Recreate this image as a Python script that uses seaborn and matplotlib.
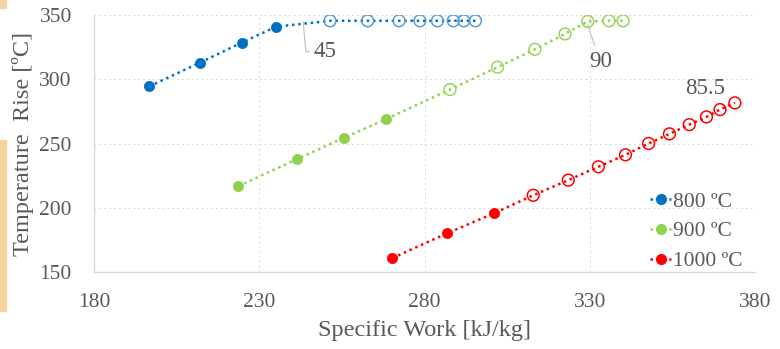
import pandas as pd
import seaborn as sns
import matplotlib.pyplot as plt
from matplotlib.lines import Line2D
from matplotlib.patches import Rectangle

# Specific work [kJ/kg] and temperature rise [ºC] per turbine inlet temperature
w800 = [196.7, 212.1, 224.7, 235.1, 251.4, 262.8, 272.3, 278.6, 283.9, 288.7, 291.9, 295.4]
t800 = [294.4, 313.0, 328.5, 340.9, 345.5, 345.5, 345.5, 345.5, 345.5, 345.5, 345.5, 345.5]
n_fill800 = 4

w900 = [223.7, 241.3, 255.6, 268.2, 287.7, 302.1, 313.4, 322.5, 329.4, 335.8, 340.1]
t900 = [216.9, 237.7, 254.4, 268.8, 292.0, 309.4, 323.3, 335.3, 345.0, 345.5, 345.5]
n_fill900 = 4

w1000 = [270.3, 286.9, 301.0, 312.9, 323.5, 332.6, 340.8, 347.8, 354.1, 360.1, 365.3, 369.4, 373.9]
t1000 = [160.9, 180.2, 195.7, 209.7, 221.5, 231.9, 241.2, 250.0, 257.5, 264.7, 270.7, 276.4, 281.6]
n_fill1000 = 3

labels = ["800 ºC", "900 ºC", "1000 ºC"]
fill_colors = ["#0070C0", "#92D050", "#FF0000"]
open_colors = ["#5B9BD5", "#9BD35A", "#FF0000"]

rows = []
for lab, ws, ts, nf in zip(labels, [w800, w900, w1000], [t800, t900, t1000],
                           [n_fill800, n_fill900, n_fill1000]):
    for i, (w, t) in enumerate(zip(ws, ts)):
        rows.append({"series": lab, "work": w, "trise": t, "filled": i < nf})
df = pd.DataFrame(rows)

sns.set_style("white")
plt.rcParams["font.family"] = ["Liberation Serif", "DejaVu Serif"]
text_col = "#595959"

fig, ax = plt.subplots(figsize=(7.8, 3.49), dpi=100)
fig.subplots_adjust(left=0.1205, right=0.968, top=0.957, bottom=0.2206)

for lab, fc, oc in zip(labels, fill_colors, open_colors):
    d = df[df["series"] == lab]
    sns.lineplot(data=d, x="work", y="trise", sort=False, color=fc, ax=ax,
                 linestyle=(0, (1, 1.5)), linewidth=1.8, legend=False, zorder=2)
    dfill = d[d["filled"]]
    dopen = d[~d["filled"]]
    sns.scatterplot(data=dfill, x="work", y="trise", color=fc, s=55,
                    edgecolor=fc, linewidth=0.5, ax=ax, legend=False, zorder=3)
    sns.scatterplot(data=dopen, x="work", y="trise", facecolor="none", s=72,
                    edgecolor=oc, linewidth=1.1, ax=ax, legend=False, zorder=3)

ax.set_xlim(180, 380)
ax.set_ylim(150, 350)
ax.set_xticks([180, 230, 280, 330, 380])
ax.set_yticks([150, 200, 250, 300, 350])
ax.grid(True, color="#D9D9D9", linestyle=(0, (2, 3)), linewidth=0.7)
ax.set_axisbelow(True)
for s in ["top", "right"]:
    ax.spines[s].set_visible(False)
for s in ["left", "bottom"]:
    ax.spines[s].set_color("#D9D9D9")
    ax.spines[s].set_linewidth(1.0)
ax.tick_params(axis="both", length=0, labelsize=15.5, labelcolor=text_col)
ax.tick_params(axis="y", pad=16)
ax.tick_params(axis="x", pad=15)

ax.set_xlabel("Specific Work [kJ/kg]", fontsize=17.5, color=text_col, labelpad=6)
ax.set_ylabel("Temperature  Rise [ºC]", fontsize=17.5, color=text_col, labelpad=4)

ax.annotate("45", xy=(243.3, 344.5), xytext=(246.3, 321.5), fontsize=16.5,
            color=text_col, ha="left", va="center",
            arrowprops=dict(arrowstyle="-", color="#BFBFBF", lw=0.8,
                            shrinkA=0, shrinkB=0,
                            connectionstyle="angle,angleA=0,angleB=95,rad=0"))
ax.annotate("90", xy=(329.3, 342.5), xytext=(329.8, 313.5), fontsize=16.5,
            color=text_col, ha="left", va="center",
            arrowprops=dict(arrowstyle="-", color="#BFBFBF", lw=0.8,
                            shrinkA=2, shrinkB=0))
ax.text(365.0, 293.0, "85.5", fontsize=16.5, color=text_col, ha="center", va="center")

handles = [Line2D([0], [0], color=c, linestyle=(0, (1, 1.5)), linewidth=1.8,
                  marker="o", markersize=7, markerfacecolor=c, markeredgecolor=c)
           for c in fill_colors]
leg = ax.legend(handles, labels, loc="lower right", frameon=False, fontsize=15.5,
                handlelength=1.0, handletextpad=0.1, labelspacing=0.45,
                borderaxespad=0.0, bbox_to_anchor=(0.995, -0.03))
for t in leg.get_texts():
    t.set_color(text_col)

# orange margin marks at the left edge of the page
fig.patches.append(Rectangle((0, 1 - 311 / 349), 6 / 780, 171 / 349,
                             transform=fig.transFigure, color="#F8D3A0", zorder=0))
fig.patches.append(Rectangle((0, 1 - 8 / 349), 6 / 780, 8 / 349,
                             transform=fig.transFigure, color="#F8D3A0", zorder=0))

plt.savefig("out.png", dpi=100)
